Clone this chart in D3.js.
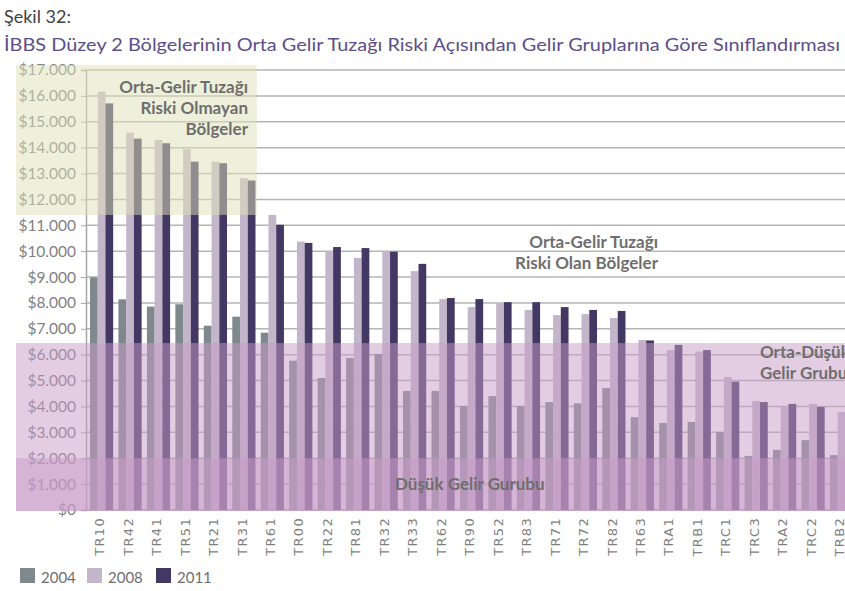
<!DOCTYPE html>
<html>
<head>
<meta charset="utf-8">
<script src="https://cdn.jsdelivr.net/npm/d3@7/dist/d3.min.js"></script>
<style>
  body { margin: 0; background: #fff; }
  svg { display: block; }
</style>
</head>
<body>
<svg id="chart" width="845" height="591"></svg>
<script>
// İBBS Düzey 2 regions, ordered by 2011 income per capita
const categories = ["TR10","TR42","TR41","TR51","TR21","TR31","TR61","TR00","TR22","TR81",
  "TR32","TR33","TR62","TR90","TR52","TR83","TR71","TR72","TR82","TR63",
  "TRA1","TRB1","TRC1","TRC3","TRA2","TRC2","TRB2"];
const years = ["2004", "2008", "2011"];
const v2004 = [8990, 8140, 7860, 7950, 7120, 7470, 6850, 5770, 5100, 5870,
  6030, 4600, 4600, 4020, 4400, 4020, 4170, 4120, 4710, 3590,
  3360, 3400, 3010, 2090, 2320, 2700, 2120];
const v2008 = [16160, 14580, 14300, 13940, 13460, 12820, 11400, 10370, 10010, 9740,
  10000, 9230, 8150, 7840, 7990, 7730, 7530, 7570, 7420, 6570,
  6180, 6120, 5140, 4210, 4020, 4100, 3790];
const v2011 = [15710, 14350, 14170, 13460, 13400, 12730, 11020, 10320, 10160, 10120,
  9980, 9510, 8190, 8150, 8030, 8030, 7840, 7730, 7690, 6550,
  6380, 6180, 4960, 4170, 4100, 3980, 3700];
const yTicks = [0,1000,2000,3000,4000,5000,6000,7000,8000,9000,10000,11000,12000,13000,14000,15000,16000,17000];

// Income-group zones
const safeZoneRange = [11400, 17200];           // not at risk of middle-income trap
const safeZoneCats = ["TR10","TR42","TR41","TR51","TR21","TR31"];
const lowerMiddleRange = [0, 6450];            // lower-middle income group
const lowIncomeRange = [0, 2000];              // low income group

const seriesColors = {"2004": "#7f898d", "2008": "#c4b6ca", "2011": "#433863"};
const seriesValues = {"2004": v2004, "2008": v2008, "2011": v2011};

const svg = d3.select("#chart");
const fontMain = "Lato, 'Open Sans', sans-serif";

const plot = {left: 86, top: 70, bottom: 510, step: 28.46};
const x0 = d3.scaleBand()
  .domain(categories)
  .range([plot.left, plot.left + plot.step * categories.length])
  .paddingInner(0).paddingOuter(0);
const bw = x0.bandwidth();
const x1 = d3.scaleBand().domain(years).range([bw * 0.14, bw * 0.955]).padding(0);
const y = d3.scaleLinear().domain([0, 17000]).range([plot.bottom, plot.top]);

const locale = d3.formatLocale({decimal: ",", thousands: ".", grouping: [3], currency: ["$", ""]});
const fmt = locale.format("$,.0f");

// Titles
svg.append("text").attr("x", 4).attr("y", 23)
  .attr("font-family", fontMain).attr("font-size", 18).attr("fill", "#404040")
  .text("Şekil 32:");
svg.append("text").attr("x", 4).attr("y", 51)
  .attr("font-family", fontMain).attr("font-size", 17.5).attr("fill", "#5c4e88")
  .attr("textLength", 836).attr("lengthAdjust", "spacingAndGlyphs")
  .text("İBBS Düzey 2 Bölgelerinin Orta Gelir Tuzağı Riski Açısından Gelir Gruplarına Göre Sınıflandırması");

// Gridlines
svg.append("g").selectAll("line").data(yTicks.filter(d => d > 0)).join("line")
  .attr("x1", plot.left).attr("x2", 845)
  .attr("y1", d => y(d)).attr("y2", d => y(d))
  .attr("stroke", "#b5b5b5").attr("stroke-width", 1.5);

// Y axis
const yAxis = svg.append("g").attr("transform", `translate(${plot.left},0)`)
  .call(d3.axisLeft(y).tickValues(yTicks).tickFormat(fmt).tickSize(5).tickPadding(5));
yAxis.select(".domain").attr("stroke", "#a6a6a6").attr("stroke-width", 1.5);
yAxis.selectAll(".tick line").attr("stroke", "#a6a6a6");
yAxis.selectAll(".tick text").attr("font-family", fontMain).attr("font-size", 15.5).attr("fill", "#7f7f7f");

// Baseline
svg.append("line").attr("x1", plot.left).attr("x2", 845)
  .attr("y1", y(0)).attr("y2", y(0)).attr("stroke", "#a6a6a6").attr("stroke-width", 1.5);

// Bars
const groups = svg.append("g").selectAll("g").data(categories).join("g")
  .attr("transform", d => `translate(${x0(d)},0)`);
groups.selectAll("rect")
  .data((d, i) => years.map(yr => ({yr, v: seriesValues[yr][i]})))
  .join("rect")
  .attr("x", d => x1(d.yr))
  .attr("width", x1.bandwidth())
  .attr("y", d => y(d.v))
  .attr("height", d => y(0) - y(d.v))
  .attr("fill", d => seriesColors[d.yr]);

// X labels (rotated)
svg.append("g").selectAll("text").data(categories).join("text")
  .attr("transform", d => `translate(${x0(d) + bw / 2 + 4},517) rotate(-90)`)
  .attr("text-anchor", "end")
  .attr("font-family", "'DejaVu Sans', sans-serif").attr("font-size", 13)
  .attr("letter-spacing", 1.3)
  .attr("fill", "#7f7f7f")
  .text(d => d);

// Zone overlays
const zoneLeft = 16;
svg.append("rect")
  .attr("x", zoneLeft).attr("y", y(safeZoneRange[1]))
  .attr("width", x0(categories[safeZoneCats.length]) - zoneLeft)
  .attr("height", y(safeZoneRange[0]) - y(safeZoneRange[1]))
  .attr("fill", "rgb(221,225,185)").attr("fill-opacity", 0.5);
[lowerMiddleRange, lowIncomeRange].forEach(r => {
  svg.append("rect")
    .attr("x", zoneLeft).attr("y", y(r[1]))
    .attr("width", 845 - zoneLeft)
    .attr("height", y(r[0]) - y(r[1]) + 1)
    .attr("fill", "rgb(199,155,199)").attr("fill-opacity", 0.5);
});

// Zone labels
function label(lines, xPos, yPos, anchor) {
  const t = svg.append("text").attr("font-family", fontMain).attr("font-weight", 700)
    .attr("font-size", 17).attr("fill", "#6e6e6e").attr("text-anchor", anchor);
  lines.forEach((l, i) => t.append("tspan").attr("x", xPos).attr("y", yPos + i * 21).text(l));
}
label(["Orta-Gelir Tuzağı", "Riski Olmayan", "Bölgeler"], 248, 93, "end");
label(["Orta-Gelir Tuzağı", "Riski Olan Bölgeler"], 658, 248, "end");
label(["Orta-Düşük", "Gelir Grubu"], 760, 358, "start");
label(["Düşük Gelir Gurubu"], 395, 490, "start");

// Legend
const legend = svg.append("g").selectAll("g").data(years).join("g")
  .attr("transform", (d, i) => `translate(${[20, 87, 156][i]},568)`);
legend.append("rect").attr("width", 15).attr("height", 15).attr("fill", d => seriesColors[d]);
legend.append("text").attr("x", 21).attr("y", 15)
  .attr("font-family", fontMain).attr("font-size", 15).attr("fill", "#6e6e6e")
  .text(d => d);
</script>
</body>
</html>
